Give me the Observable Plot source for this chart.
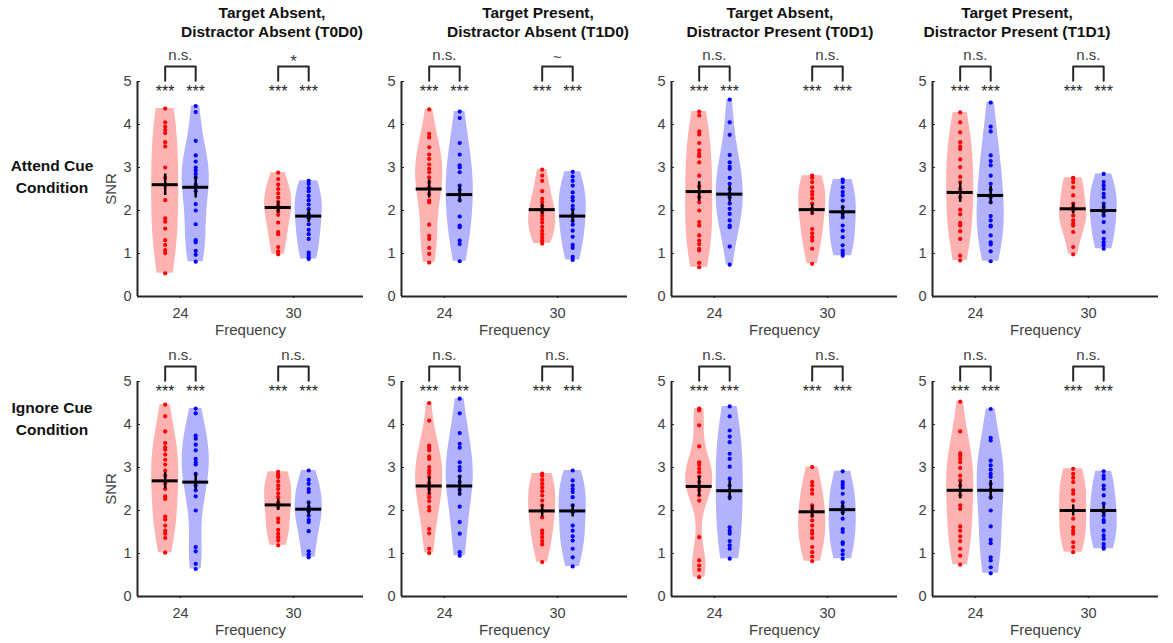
<!DOCTYPE html>
<html><head><meta charset="utf-8">
<script src="https://cdn.jsdelivr.net/npm/d3@7"></script>
<script src="https://cdn.jsdelivr.net/npm/@observablehq/plot@0.6"></script>
<style>
body{margin:0;background:#fff;}
#fig{position:relative;width:1173px;height:643px;overflow:hidden;font-family:"Liberation Sans",Arial,sans-serif;background:#fff;}
.ttl{position:absolute;transform:translate(-50%,-50%);font-weight:bold;font-size:15.5px;color:#111;white-space:nowrap;line-height:1;}
.panel{position:absolute;}
</style></head><body><div id="fig"></div>
<script>
// ---------------- DATA ----------------
const frequencies = ["24", "30"];
const yTicks = [0, 1, 2, 3, 4, 5];
const colTitle1 = ["Target Absent,", "Target Present,", "Target Absent,", "Target Present,"];
const colTitle2 = ["Distractor Absent (T0D0)", "Distractor Absent (T1D0)", "Distractor Present (T0D1)", "Distractor Present (T1D1)"];
const rowLabels = [["Attend Cue", "Condition"], ["Ignore Cue", "Condition"]];
const yLabel = "SNR";
const xLabel = "Frequency";
const starLabel = "***";
const attendSig = [["n.s.", "*"], ["n.s.", "~"], ["n.s.", "n.s."], ["n.s.", "n.s."]];
const ignoreSig = [["n.s.", "n.s."], ["n.s.", "n.s."], ["n.s.", "n.s."], ["n.s.", "n.s."]];

// individual SNR values (red / blue) per condition and frequency
const attend_T0D0_24_red  = [4.37,4.05,3.95,3.87,3.80,3.59,3.49,3.00,2.76,2.59,2.24,1.82,1.74,1.58,1.31,1.20,1.08,1.01,0.54];
const attend_T0D0_24_blue = [4.43,4.29,3.62,3.28,3.14,3.00,2.93,2.85,2.77,2.60,2.45,2.15,2.00,1.68,1.31,1.26,1.06,0.97,0.81];
const attend_T0D0_30_red  = [2.88,2.73,2.60,2.50,2.40,2.30,2.20,2.12,2.05,1.98,1.90,1.72,1.50,1.45,1.15,1.05,0.98];
const attend_T0D0_30_blue = [2.69,2.62,2.52,2.45,2.34,2.24,2.14,2.03,1.92,1.82,1.68,1.55,1.45,1.34,1.02,0.97,0.91,0.87];

const attend_T1D0_24_red  = [4.35,3.78,3.70,3.47,3.30,3.20,3.07,2.97,2.89,2.77,2.66,2.54,2.38,2.23,2.19,1.67,1.41,1.34,1.13,0.99,0.79];
const attend_T1D0_24_blue = [4.30,4.15,3.57,3.30,3.05,3.00,2.89,2.58,2.48,2.38,2.24,1.86,1.65,1.61,1.30,1.22,0.82];
const attend_T1D0_30_red  = [2.95,2.81,2.69,2.45,2.27,2.19,2.11,2.03,1.96,1.88,1.80,1.72,1.62,1.53,1.45,1.37,1.30,1.23];
const attend_T1D0_30_blue = [2.90,2.79,2.69,2.58,2.42,2.31,2.23,2.11,2.03,1.90,1.76,1.67,1.53,1.39,1.20,1.13,0.92,0.85];

const attend_T0D1_24_red  = [4.30,4.21,3.84,3.77,3.57,3.40,3.32,3.26,3.12,2.81,2.56,2.43,2.31,2.19,2.00,1.73,1.65,1.42,1.30,1.22,1.11,1.07,0.78,0.68];
const attend_T0D1_24_blue = [4.58,4.05,3.76,3.29,3.12,3.02,2.97,2.76,2.62,2.50,2.39,2.31,2.16,2.04,1.92,1.77,1.65,1.61,1.16,0.74];
const attend_T0D1_30_red  = [2.81,2.76,2.66,2.54,2.44,2.37,2.28,2.16,2.04,1.94,1.57,1.47,1.38,1.30,1.11,0.76];
const attend_T0D1_30_blue = [2.72,2.66,2.54,2.43,2.35,2.23,2.08,1.92,1.84,1.65,1.53,1.38,1.19,1.07,1.01,0.95];

const attend_T1D1_24_red  = [4.28,4.05,3.82,3.59,3.49,3.43,3.19,3.01,2.78,2.66,2.50,2.31,2.02,1.91,1.71,1.65,1.52,1.34,0.95,0.84];
const attend_T1D1_24_blue = [4.51,3.95,3.84,3.28,3.15,3.05,2.81,2.62,2.48,2.31,2.19,1.87,1.77,1.65,1.63,1.42,1.26,1.21,1.05,0.82];
const attend_T1D1_30_red  = [2.76,2.74,2.66,2.54,2.35,2.16,2.08,2.00,1.88,1.77,1.69,1.65,1.50,1.15,0.98];
const attend_T1D1_30_blue = [2.85,2.66,2.58,2.50,2.39,2.31,2.16,2.08,1.96,1.88,1.73,1.50,1.34,1.26,1.19,1.11];

const ignore_T0D0_24_red  = [4.46,4.19,3.84,3.57,3.47,3.41,3.30,3.18,3.07,2.93,2.81,2.62,2.50,2.33,2.27,1.86,1.79,1.65,1.53,1.46,1.36,1.02];
const ignore_T0D0_24_blue = [4.37,4.26,3.74,3.67,3.53,3.40,3.20,3.12,3.07,2.85,2.58,2.47,2.33,2.00,1.15,1.05,0.76,0.64];
const ignore_T0D0_30_red  = [2.90,2.84,2.78,2.68,2.58,2.50,2.40,2.31,2.19,2.08,1.81,1.73,1.55,1.46,1.38,1.30,1.19];
const ignore_T0D0_30_blue = [2.93,2.71,2.62,2.50,2.43,2.19,2.08,1.98,1.88,1.78,1.73,1.52,1.05,0.98,0.91];

const ignore_T1D0_24_red  = [4.50,4.09,3.51,3.46,3.40,3.26,3.20,3.01,2.93,2.87,2.78,2.64,2.50,2.39,2.31,2.22,2.08,2.00,1.57,1.47,1.11,1.01];
const ignore_T1D0_24_blue = [4.60,4.26,3.80,3.55,3.46,3.12,3.01,2.93,2.79,2.66,2.48,2.39,2.09,1.73,1.46,1.03,0.95];
const ignore_T1D0_30_red  = [2.86,2.81,2.71,2.62,2.54,2.45,2.35,2.23,2.12,2.00,1.84,1.53,1.46,1.38,1.29,1.21,0.80];
const ignore_T1D0_30_blue = [2.93,2.70,2.58,2.50,2.43,2.31,2.12,1.96,1.65,1.53,1.40,1.30,1.11,0.91,0.70];

const ignore_T0D1_24_red  = [4.37,4.33,3.98,3.49,3.12,3.06,2.97,2.89,2.79,2.66,2.54,2.47,2.35,2.23,1.38,0.84,0.72,0.62,0.45];
const ignore_T0D1_24_blue = [4.42,4.19,3.86,3.72,3.59,3.32,3.20,3.02,2.74,2.58,2.47,2.31,1.61,1.53,1.46,1.29,1.19,1.11,0.88];
const ignore_T0D1_30_red  = [3.01,2.66,2.58,2.48,2.39,2.12,2.04,1.88,1.77,1.65,1.53,1.46,1.36,1.15,1.03,0.93,0.82];
const ignore_T0D1_30_blue = [2.91,2.66,2.60,2.53,2.39,2.19,2.09,1.96,1.81,1.57,1.50,1.26,1.22,1.07,0.98,0.88];

const ignore_T1D1_24_red  = [4.53,3.84,3.33,3.28,3.20,3.12,2.99,2.81,2.70,2.58,2.35,2.12,2.04,1.63,1.53,1.40,1.29,1.11,0.95,0.74];
const ignore_T1D1_24_blue = [4.36,3.69,3.63,3.16,3.05,2.95,2.85,2.78,2.62,2.48,2.31,2.00,1.63,1.32,1.24,0.91,0.84,0.68,0.54];
const ignore_T1D1_30_red  = [2.97,2.85,2.76,2.66,2.47,2.39,2.23,2.00,1.81,1.61,1.53,1.46,1.26,1.15,1.03];
const ignore_T1D1_30_blue = [2.91,2.81,2.74,2.58,2.50,2.35,2.16,1.96,1.88,1.78,1.73,1.53,1.42,1.34,1.22,1.15,1.11];

// group means and SEM (order: 24 red, 24 blue, 30 red, 30 blue)
const attendMeans = [[2.60,2.54,2.07,1.87],[2.50,2.37,2.02,1.87],[2.44,2.38,2.02,1.97],[2.42,2.35,2.04,2.00]];
const attendSEM   = [[0.25,0.25,0.14,0.15],[0.21,0.19,0.12,0.15],[0.23,0.19,0.12,0.14],[0.23,0.21,0.12,0.13]];
const ignoreMeans = [[2.69,2.66,2.13,2.03],[2.57,2.57,1.99,1.99],[2.56,2.46,1.97,2.02],[2.47,2.47,2.00,2.00]];
const ignoreSEM   = [[0.19,0.19,0.13,0.16],[0.20,0.23,0.14,0.14],[0.23,0.23,0.14,0.14],[0.20,0.23,0.13,0.12]];

// ---------------- BUILD ----------------
const attendPts = [
  [attend_T0D0_24_red, attend_T0D0_24_blue, attend_T0D0_30_red, attend_T0D0_30_blue],
  [attend_T1D0_24_red, attend_T1D0_24_blue, attend_T1D0_30_red, attend_T1D0_30_blue],
  [attend_T0D1_24_red, attend_T0D1_24_blue, attend_T0D1_30_red, attend_T0D1_30_blue],
  [attend_T1D1_24_red, attend_T1D1_24_blue, attend_T1D1_30_red, attend_T1D1_30_blue]];
const ignorePts = [
  [ignore_T0D0_24_red, ignore_T0D0_24_blue, ignore_T0D0_30_red, ignore_T0D0_30_blue],
  [ignore_T1D0_24_red, ignore_T1D0_24_blue, ignore_T1D0_30_red, ignore_T1D0_30_blue],
  [ignore_T0D1_24_red, ignore_T0D1_24_blue, ignore_T0D1_30_red, ignore_T0D1_30_blue],
  [ignore_T1D1_24_red, ignore_T1D1_24_blue, ignore_T1D1_30_red, ignore_T1D1_30_blue]];
const rowsPts = [attendPts, ignorePts];
const rowsMeans = [attendMeans, ignoreMeans];
const rowsSEM = [attendSEM, ignoreSEM];
const rowsSig = [attendSig, ignoreSig];

const COLORS = ["#ff0000", "#0000ff"];
const XDOM = [0.62, 2.62];
const OFF = 0.135, VW = 0.12, MW = 0.115;
const axisLeft = [137, 401, 671, 932];
const rowTop = [81, 381];
const titleX = [272, 538, 780, 1017];
const ML = 40, MR = 10, MT = 80, MB = 45, PW = 226, PH = 215;
const PXU = PW / (XDOM[1] - XDOM[0]); // px per x unit
const PYU = PH / 5;
const sigStyle = {"n.s.": {dy: -6, size: 15}, "*": {dy: 1, size: 17}, "~": {dy: -4, size: 15}};

function kde(vals) {
  const n = vals.length;
  const med = d3.median(vals);
  const mad = d3.median(vals.map(v => Math.abs(v - med)));
  const bw = (mad / 0.6745) * Math.pow(4 / (3 * n), 0.2);
  const lo = d3.min(vals), hi = d3.max(vals), m = 90;
  const grid = d3.range(m + 1).map(i => lo + (hi - lo) * i / m);
  const dens = grid.map(g => d3.sum(vals, v => Math.exp(-0.5 * ((g - v) / bw) ** 2)));
  const mx = d3.max(dens);
  return grid.map((g, i) => ({v: g, w: dens[i] / mx}));
}

const fig = document.getElementById("fig");
const font = '"Liberation Sans", Arial, sans-serif';
const ink = "#262626", gray = "#404040";

for (let r = 0; r < 2; r++) {
  for (let c = 0; c < 4; c++) {
    const pts = rowsPts[r][c], means = rowsMeans[r][c], sems = rowsSEM[r][c], sig = rowsSig[r][c];
    const violins = [], dots = [], stats = [];
    pts.forEach((vals, k) => {
      const g = Math.floor(k / 2) + 1, side = k % 2;
      const cx = g + (side === 0 ? -OFF : OFF);
      kde(vals).forEach(d => violins.push({side, key: k, v: d.v, x1: cx - VW * d.w, x2: cx + VW * d.w}));
      vals.forEach(v => dots.push({side, x: cx, v}));
      stats.push({x: cx, m: means[k], s: sems[k]});
    });
    const groups = frequencies.map((f, i) => ({g: i + 1, f, sig: sig[i], xr: i + 1 - OFF, xb: i + 1 + OFF}));
    const bracket = [];
    groups.forEach((gr, i) => {
      bracket.push({i, x: gr.xr, y: 5.02}, {i, x: gr.xr, y: 5.35}, {i, x: gr.xb, y: 5.35}, {i, x: gr.xb, y: 5.02});
    });
    const stars = stats.map(s => ({x: s.x}));
    const marks = [
      Plot.areaX(violins.filter(d => d.side === 0), {y: "v", x1: "x1", x2: "x2", z: "key", fill: COLORS[0], fillOpacity: 0.3}),
      Plot.areaX(violins.filter(d => d.side === 1), {y: "v", x1: "x1", x2: "x2", z: "key", fill: COLORS[1], fillOpacity: 0.3}),
      Plot.dot(dots.filter(d => d.side === 0), {x: "x", y: "v", r: 2.1, fill: COLORS[0], stroke: null}),
      Plot.dot(dots.filter(d => d.side === 1), {x: "x", y: "v", r: 2.1, fill: COLORS[1], stroke: null}),
      Plot.ruleX(stats, {x: "x", y1: d => d.m - d.s, y2: d => d.m + d.s, stroke: "#000", strokeWidth: 2.5}),
      Plot.ruleY(stats, {y: "m", x1: d => d.x - MW, x2: d => d.x + MW, stroke: "#000", strokeWidth: 3}),
      // axes
      Plot.ruleY([0], {stroke: ink, strokeWidth: 2}),
      Plot.ruleX([XDOM[0]], {y1: 0, y2: 5, stroke: ink, strokeWidth: 2}),
      Plot.ruleY(yTicks, {y: d => d, x1: XDOM[0], x2: XDOM[0] + 3 / PXU, stroke: ink, strokeWidth: 1}),
      Plot.ruleX(groups, {x: "g", y1: 0, y2: -2 / PYU, stroke: ink, strokeWidth: 1.5}),
      Plot.text(yTicks, {x: XDOM[0], y: d => d, text: d => String(d), textAnchor: "end", dx: -6, fontSize: 14.5, fill: gray}),
      Plot.text(groups, {x: "g", y: 0, text: "f", dy: 17, fontSize: 14.5, fill: gray}),
      Plot.text([xLabel], {x: (XDOM[0] + XDOM[1]) / 2, y: 0, text: d => d, dy: 34, fontSize: 15, fill: gray}),
      // significance
      Plot.text(stars, {x: "x", y: 5, text: () => starLabel, dy: 10, fontSize: 16, fill: ink}),
      Plot.line(bracket, {x: "x", y: "y", z: "i", stroke: ink, strokeWidth: 2})
    ];
    groups.forEach(gr => {
      const st = sigStyle[gr.sig];
      marks.push(Plot.text([gr], {x: d => (d.xr + d.xb) / 2, y: 5.35, text: "sig", dy: st.dy, fontSize: st.size, fill: gray, lineAnchor: "bottom"}));
    });
    if (c === 0) {
      marks.push(Plot.text([yLabel], {x: XDOM[0] - 26 / PXU, y: 2.5, text: d => d, rotate: -90, fontSize: 15, fill: gray}));
    }
    const svg = Plot.plot({
      width: ML + PW + MR, height: MT + PH + MB,
      marginLeft: ML, marginRight: MR, marginTop: MT, marginBottom: MB,
      x: {domain: XDOM, axis: null},
      y: {domain: [0, 5], axis: null},
      style: {background: "transparent", overflow: "visible", fontFamily: font},
      marks
    });
    svg.classList.add("panel");
    svg.style.left = (axisLeft[c] - ML) + "px";
    svg.style.top = (rowTop[r] - MT) + "px";
    fig.appendChild(svg);
  }
}

function addText(txt, x, y) {
  const d = document.createElement("div");
  d.className = "ttl";
  d.textContent = txt;
  d.style.left = x + "px";
  d.style.top = y + "px";
  fig.appendChild(d);
}
for (let c = 0; c < 4; c++) {
  addText(colTitle1[c], titleX[c], 13);
  addText(colTitle2[c], titleX[c], 32);
}
addText(rowLabels[0][0], 52, 166);
addText(rowLabels[0][1], 52, 188);
addText(rowLabels[1][0], 52, 408);
addText(rowLabels[1][1], 52, 430);
</script>
</body></html>
